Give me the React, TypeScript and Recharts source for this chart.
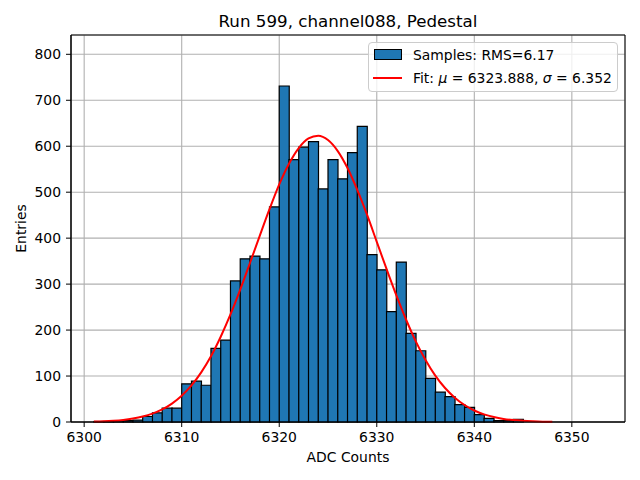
import React from "react";
import {
  ComposedChart,
  Bar,
  Line,
  XAxis,
  YAxis,
  CartesianGrid,
  Legend,
  ReferenceArea,
} from "recharts";

// histogram bins (left edge, width 1 ADC count)
const binLow = [
  6301, 6302, 6303, 6304, 6305, 6306, 6307, 6308, 6309, 6310, 6311, 6312, 6313,
  6314, 6315, 6316, 6317, 6318, 6319, 6320, 6321, 6322, 6323, 6324, 6325, 6326,
  6327, 6328, 6329, 6330, 6331, 6332, 6333, 6334, 6335, 6336, 6337, 6338, 6339,
  6340, 6341, 6342, 6343, 6344, 6345, 6346, 6347, 6348, 6349, 6350, 6351, 6352,
];
const counts = [
  1, 1, 3, 3, 4, 12, 20, 30, 30, 83, 89, 80, 160, 178, 307, 355, 361, 355, 468,
  731, 571, 598, 610, 507, 571, 529, 586, 643, 364, 331, 240, 348, 193, 155, 95,
  65, 55, 38, 32, 16, 8, 3, 3, 6, 0, 0, 0, 0, 0, 0, 0, 0,
];

// gaussian fit curve
const fitX = [
  6301, 6302, 6303, 6304, 6305, 6306, 6307, 6308, 6309, 6310, 6311, 6312, 6313,
  6314, 6315, 6316, 6317, 6318, 6319, 6320, 6321, 6322, 6323, 6324, 6325, 6326,
  6327, 6328, 6329, 6330, 6331, 6332, 6333, 6334, 6335, 6336, 6337, 6338, 6339,
  6340, 6341, 6342, 6343, 6344, 6345, 6346, 6347, 6348,
];
const fitY = [
  0.9, 1.6, 2.8, 4.6, 7.5, 11.8, 18.2, 27.3, 40, 57, 79.5, 108, 143, 185.5, 234,
  288, 346, 405, 463, 517, 562, 596, 617, 623, 613.5, 589.5, 552.5, 505, 451,
  392, 333, 276, 223, 175.5, 135, 101, 74, 53, 37, 25, 16.5, 10.7, 6.7, 4.1, 2.5,
  1.5, 0.8, 0.5,
];

const xTicks = [6300, 6310, 6320, 6330, 6340, 6350];
const yTicks = [0, 100, 200, 300, 400, 500, 600, 700, 800];
const xDomain: [number, number] = [6298.65, 6355.45];
const yDomain: [number, number] = [0, 842];

const binData = binLow.map((lo, i) => ({ x: lo + 0.5, count: counts[i] }));
const fitData = fitX.map((x, i) => ({ x, fit: fitY[i] }));

const FONT = "DejaVu Sans, sans-serif";
const tickStyle = { fill: "#000", fontSize: 13.9, fontFamily: FONT };

const renderLegend = () => (
  <div
    style={{
      position: "relative",
      width: 248,
      height: 48,
      border: "1px solid #cccccc",
      borderRadius: 4,
      background: "rgba(255,255,255,0.8)",
      fontFamily: FONT,
      fontSize: 13.9,
      color: "#000",
      lineHeight: "16px",
      whiteSpace: "nowrap",
    }}
  >
    <div
      style={{
        position: "absolute",
        left: 5,
        top: 6,
        width: 26,
        height: 9,
        background: "#1f77b4",
        border: "1px solid #000",
      }}
    />
    <div style={{ position: "absolute", left: 44, top: 4 }}>
      Samples: RMS=6.17
    </div>
    <div
      style={{
        position: "absolute",
        left: 4,
        top: 34,
        width: 29,
        height: 2,
        background: "#ff0000",
      }}
    />
    <div style={{ position: "absolute", left: 44, top: 27 }}>
      Fit: <i>μ</i> = 6323.888, <i>σ</i> = 6.352
    </div>
  </div>
);

export default function App() {
  return (
    <div style={{ position: "relative", width: 640, height: 480, background: "#fff" }}>
      <style>{`body{margin:0}`}</style>
      <div
        style={{
          position: "absolute",
          left: 71,
          top: 13,
          width: 554,
          textAlign: "center",
          fontFamily: FONT,
          fontSize: 16.7,
          lineHeight: "16.7px",
          color: "#000",
        }}
      >
        Run 599, channel088, Pedestal
      </div>
      <ComposedChart
        width={640}
        height={480}
        data={binData}
        margin={{ top: 35, right: 15, bottom: 0, left: 0 }}
        barCategoryGap={0}
        barGap={0}
      >
        <XAxis
          xAxisId="main"
          type="number"
          dataKey="x"
          domain={xDomain}
          ticks={xTicks}
          interval={0}
          height={58}
          tick={tickStyle}
          tickSize={5}
          tickMargin={5}
          stroke="#000"
          label={{
            value: "ADC Counts",
            position: "insideBottom",
            offset: 18,
            style: { fill: "#000", fontSize: 13.9, fontFamily: FONT },
          }}
        />
        <XAxis
          xAxisId="bins"
          type="number"
          dataKey="x"
          domain={xDomain}
          height={0}
          hide
        />
        <YAxis
          type="number"
          domain={yDomain}
          ticks={yTicks}
          interval={0}
          width={71}
          tick={tickStyle}
          tickSize={5}
          tickMargin={5}
          stroke="#000"
          label={{
            value: "Entries",
            angle: -90,
            position: "insideLeft",
            offset: 21,
            style: {
              fill: "#000",
              fontSize: 13.9,
              fontFamily: FONT,
              textAnchor: "middle",
            },
          }}
        />
        <Bar
          xAxisId="bins"
          dataKey="count"
          name="Samples: RMS=6.17"
          fill="#1f77b4"
          stroke="#000"
          strokeWidth={1.2}
          isAnimationActive={false}
        />
        <CartesianGrid
          xAxisId="main"
          stroke="#b0b0b0"
          strokeWidth={1.1}
          strokeDasharray=""
        />
        <Line
          xAxisId="main"
          data={fitData}
          dataKey="fit"
          type="monotone"
          stroke="#ff0000"
          strokeWidth={2}
          dot={false}
          activeDot={false}
          isAnimationActive={false}
        />
        <ReferenceArea
          xAxisId="main"
          x1={xDomain[0]}
          x2={xDomain[1]}
          y1={yDomain[0]}
          y2={yDomain[1]}
          fill="none"
          stroke="#000"
          strokeWidth={1}
          fillOpacity={0}
        />
        <Legend
          layout="vertical"
          align="center"
          verticalAlign="middle"
          content={renderLegend}
          wrapperStyle={{ left: 368, top: 42, width: 250, height: 50 }}
        />
      </ComposedChart>
    </div>
  );
}
